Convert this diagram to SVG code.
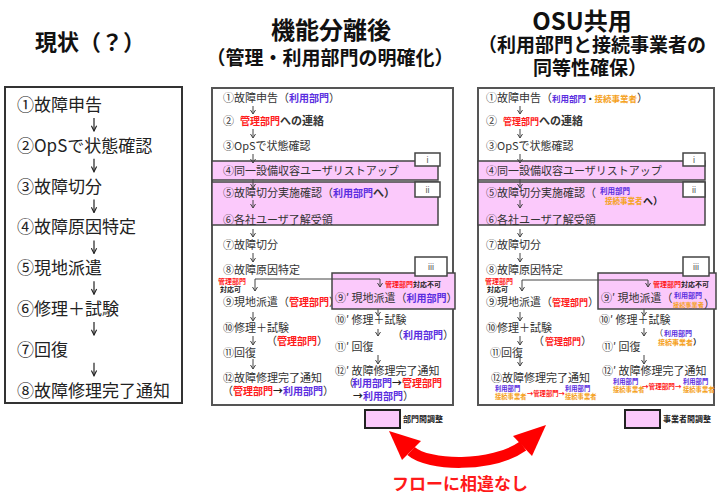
<svg xmlns="http://www.w3.org/2000/svg" width="719" height="494" viewBox="0 0 719 494">
<defs>
<style>
text { font-family: "Noto Sans CJK JP", "Noto Sans CJK SC", sans-serif; }
.h { font-weight: bold; fill: #111; }
.L { font-size: 17px; fill: #222; }
.s { font-size: 11px; fill: #333; }
.bd { font-weight: bold; }
.bl { fill: #5a2ee0; font-weight: bold; }
.rd { fill: #ff1a1a; font-weight: bold; }
.or { fill: #f5a21e; font-weight: bold; }
.k { fill: #222; font-weight: bold; }
.frame { fill: #fff; stroke: #555; stroke-width: 2; }
.pink { fill: #fbc9fb; stroke: #444; stroke-width: 1.5; }
.tag { fill: #fff; stroke: #444; stroke-width: 1.5; }
.tagt { font-family: "Liberation Sans", sans-serif; font-size: 9px; fill: #555; text-anchor: middle; }
.ar { fill: none; stroke: #444; stroke-width: 1; marker-end: url(#ah); }
.arL { fill: none; stroke: #222; stroke-width: 1.2; marker-end: url(#ahL); }
.legend { fill: #fbc9fb; stroke: #222; stroke-width: 2; }
</style>
<marker id="ah" viewBox="0 0 6 6" refX="5" refY="3" markerWidth="6" markerHeight="6" markerUnits="userSpaceOnUse" orient="auto">
<path d="M1,0.5 L5,3 L1,5.5" fill="none" stroke="#444" stroke-width="1"/>
</marker>
<marker id="ahL" viewBox="0 0 8 8" refX="7" refY="4" markerWidth="7" markerHeight="7" markerUnits="userSpaceOnUse" orient="auto">
<path d="M1,1 L7,4 L1,7" fill="none" stroke="#222" stroke-width="1.3"/>
</marker>
</defs>
<rect width="719" height="494" fill="#fff"/>

<!-- ===== current flow ===== -->
<g id="cur-title"><text class="h" x="35" y="50" font-size="22">現状（？）</text></g>
<g id="cur-frame"><rect x="5" y="87" width="177" height="316" fill="#fff" stroke="#333" stroke-width="2"/></g>
<g id="cur-1"><text class="L" x="17" y="111">①故障申告</text></g>
<g id="cur-2"><text class="L" x="17" y="151.8">②OpSで状態確認</text></g>
<g id="cur-3"><text class="L" x="17" y="192.6">③故障切分</text></g>
<g id="cur-4"><text class="L" x="17" y="233.4">④故障原因特定</text></g>
<g id="cur-5"><text class="L" x="17" y="274.2">⑤現地派遣</text></g>
<g id="cur-6"><text class="L" x="17" y="315">⑥修理＋試験</text></g>
<g id="cur-7"><text class="L" x="17" y="355.8">⑦回復</text></g>
<g id="cur-8"><text class="L" x="17" y="396.6">⑧故障修理完了通知</text></g>

<!-- ===== after functional separation ===== -->
<g id="sep-title">
<text class="h" x="331" y="39" font-size="24" text-anchor="middle">機能分離後</text>
<text class="h" x="330" y="65" font-size="19" text-anchor="middle">（管理・利用部門の明確化）</text>
</g>
<g id="sep-frame"><rect class="frame" x="212" y="88" width="241" height="317"/></g>
<g id="sep-1"><text class="s" x="223" y="102">①故障申告（<tspan class="bl" font-size="10">利用部門</tspan>）</text></g>
<g id="sep-2"><text class="s" x="223" y="125">②<tspan x="240" class="rd" font-size="10">管理部門</tspan><tspan class="bd">への連絡</tspan></text></g>
<g id="sep-3"><text class="s" x="223" y="150">③OpSで状態確認</text></g>
<g id="sep-4">
<rect class="pink" x="212" y="161" width="226" height="19"/>
<text class="s" x="223" y="175">④同一設備収容ユーザリストアップ</text>
<rect class="tag" x="415" y="153" width="25" height="13"/>
<text class="tagt" x="427.5" y="163">i</text>
</g>
<g id="sep-5-6">
<rect class="pink" x="212" y="182" width="226" height="43"/>
<text class="s" x="223" y="197">⑤故障切分実施確認（<tspan class="bl" font-size="10">利用部門</tspan><tspan class="bd">へ）</tspan></text>
<text class="s" x="223" y="224">⑥各社ユーザ了解受領</text>
<rect class="tag" x="415" y="182" width="25" height="15"/>
<text class="tagt" x="427.5" y="193">ii</text>
</g>
<g id="sep-7"><text class="s" x="223" y="249">⑦故障切分</text></g>
<g id="sep-8"><text class="s" x="223" y="274">⑧故障原因特定</text></g>
<g id="sep-9">
<text class="rd" x="218" y="283.7" font-size="7">管理部門</text>
<text class="k" x="220" y="291.7" font-size="7">対応可</text>
<text class="s" x="223" y="306">⑨現地派遣（<tspan class="rd" font-size="10">管理部門</tspan>）</text>
</g>
<g id="sep-9b">
<rect class="pink" x="332" y="273" width="123" height="36"/>
<rect class="tag" x="415" y="257" width="32" height="19"/>
<text class="tagt" x="431" y="269.5">iii</text>
<text x="385" y="287" font-size="7"><tspan class="rd">管理部門</tspan><tspan class="k">対応不可</tspan></text>
<text class="s" x="335" y="301.5">⑨′ 現地派遣（<tspan class="bl" font-size="10">利用部門</tspan>）</text>
</g>
<g id="sep-10">
<text class="s" x="223" y="332">⑩修理＋試験</text>
<text class="s" x="266" y="345">（<tspan x="277" class="rd" font-size="10">管理部門</tspan>）</text>
</g>
<g id="sep-10b">
<text class="s" x="335" y="324">⑩′ 修理＋試験</text>
<text class="s" x="392" y="339">（<tspan x="403" class="bl" font-size="10">利用部門</tspan>）</text>
</g>
<g id="sep-11"><text class="s" x="223" y="357">⑪回復</text></g>
<g id="sep-11b"><text class="s" x="335" y="351">⑪′ 回復</text></g>
<g id="sep-12">
<text class="s" x="223" y="382">⑫故障修理完了通知</text>
<text class="s" x="222" y="395">（<tspan x="233" class="rd" font-size="10">管理部門</tspan><tspan class="k" font-size="10">→</tspan><tspan class="bl" font-size="10">利用部門</tspan>）</text>
</g>
<g id="sep-12b">
<text class="s" x="335" y="374.5">⑫′ 故障修理完了通知</text>
<text class="s" x="343" y="387">（<tspan x="352" class="bl" font-size="10">利用部門</tspan><tspan class="k" font-size="10">→</tspan><tspan class="rd" font-size="10">管理部門</tspan></text>
<text class="s" x="353" y="399.5"><tspan class="k" font-size="10">→</tspan><tspan class="bl" font-size="10">利用部門</tspan>）</text>
</g>
<g id="sep-legend">
<rect class="legend" x="365" y="410" width="35" height="18"/>
<text class="k" x="403" y="422" font-size="8">部門間調整</text>
</g>

<!-- ===== shared OSU ===== -->
<g id="osu-title">
<text class="h" x="582" y="30" font-size="24" text-anchor="middle" font-family="Liberation Sans, Noto Sans CJK JP, sans-serif">OSU共用</text>
<text class="h" x="592" y="52" font-size="19" text-anchor="middle">（利用部門と接続事業者の</text>
<text class="h" x="590" y="75" font-size="19" text-anchor="middle">同等性確保）</text>
</g>
<g id="osu-frame"><rect class="frame" x="478" y="88" width="236" height="317"/></g>
<g id="osu-1"><text class="s" x="486" y="102">①故障申告（<tspan class="bl" font-size="8.5">利用部門</tspan><tspan class="k" font-size="8.5">・</tspan><tspan class="or" font-size="8.5">接続事業者</tspan>）</text></g>
<g id="osu-2"><text class="s" x="486" y="125">②<tspan x="503" class="rd" font-size="9">管理部門</tspan><tspan class="bd">への連絡</tspan></text></g>
<g id="osu-3"><text class="s" x="486" y="150">③OpSで状態確認</text></g>
<g id="osu-4">
<rect class="pink" x="478" y="161" width="227" height="19"/>
<text class="s" x="486" y="175">④同一設備収容ユーザリストアップ</text>
<rect class="tag" x="683" y="153" width="22" height="13"/>
<text class="tagt" x="694" y="163">i</text>
</g>
<g id="osu-5-6">
<rect class="pink" x="478" y="182" width="227" height="43"/>
<text class="s" x="486" y="197">⑤故障切分実施確認（</text>
<text class="bl" x="600" y="194" font-size="7.5">利用部門</text>
<text class="or" x="605" y="204" font-size="7.5">接続事業者</text>
<text class="k" x="643" y="205" font-size="10">へ）</text>
<text class="s" x="486" y="224">⑥各社ユーザ了解受領</text>
<rect class="tag" x="683" y="182" width="22" height="15"/>
<text class="tagt" x="694" y="193">ii</text>
</g>
<g id="osu-7"><text class="s" x="486" y="249">⑦故障切分</text></g>
<g id="osu-8"><text class="s" x="486" y="274">⑧故障原因特定</text></g>
<g id="osu-9">
<text class="rd" x="485" y="283.7" font-size="7">管理部門</text>
<text class="k" x="487" y="291.7" font-size="7">対応可</text>
<text class="s" x="486" y="306">⑨現地派遣（<tspan class="rd" font-size="9">管理部門</tspan>）</text>
</g>
<g id="osu-9b">
<rect class="pink" x="598" y="273" width="118" height="36"/>
<rect class="tag" x="683" y="257" width="26" height="19"/>
<text class="tagt" x="696" y="269.5">iii</text>
<text x="653" y="287" font-size="7"><tspan class="rd">管理部門</tspan><tspan class="k">対応不可</tspan></text>
<text class="s" x="601" y="301.5">⑨′ 現地派遣（</text>
<text class="bl" x="674" y="298" font-size="7">利用部門</text>
<text class="or" x="673" y="307" font-size="6.2">接続事業者</text>
<text class="s" x="704" y="308" font-size="9">）</text>
</g>
<g id="osu-10">
<text class="s" x="486" y="332">⑩修理＋試験</text>
<text class="s" x="533" y="345">（<tspan x="545" class="rd" font-size="9">管理部門</tspan>）</text>
</g>
<g id="osu-10b">
<text class="s" x="599" y="324">⑩′ 修理＋試験</text>
<text x="655" y="335.5" font-size="8" fill="#222">（<tspan x="664" class="bl" font-size="7">利用部門</tspan></text>
<text x="658" y="344.5" font-size="7"><tspan class="or">接続事業者</tspan><tspan class="k" font-size="8">）</tspan></text>
</g>
<g id="osu-11"><text class="s" x="490" y="357">⑪回復</text></g>
<g id="osu-11b"><text class="s" x="602" y="351">⑪′ 回復</text></g>
<g id="osu-12">
<text class="s" x="491" y="382">⑫故障修理完了通知</text>
<text class="bl" x="495" y="390.5" font-size="6.3">利用部門</text>
<text class="or" x="495" y="398.5" font-size="6.3">接続事業者</text>
<text class="rd" x="527" y="395.5" font-size="6.3">→管理部門→</text>
<text class="bl" x="565" y="390.5" font-size="6.3">利用部門</text>
<text class="or" x="565" y="398.5" font-size="6.3">接続事業者</text>
</g>
<g id="osu-12b">
<text class="s" x="602" y="374.5">⑫′ 故障修理完了通知</text>
<text class="bl" x="613" y="383.5" font-size="6.3">利用部門</text>
<text class="or" x="613" y="391.5" font-size="6.3">接続事業者</text>
<text class="rd" x="642" y="388.5" font-size="6.6">→管理部門→</text>
<text class="bl" x="683" y="383.5" font-size="6.3">利用部門</text>
<text class="or" x="683" y="391.5" font-size="6.3">接続事業者</text>
</g>
<g id="osu-legend">
<rect class="legend" x="625" y="410" width="35" height="18"/>
<text class="k" x="663" y="422" font-size="8">事業者間調整</text>
</g>

<!-- ===== conclusion ===== -->
<g id="no-diff"><text class="rd" x="392" y="489.5" font-size="17">フローに相違なし</text></g>

<!-- ===== connectors ===== -->
<g id="connectors">
<path class="arL" d="M94 118 V131"/>
<path class="arL" d="M94 158.8 V171.8"/>
<path class="arL" d="M94 199.6 V212.6"/>
<path class="arL" d="M94 240.4 V253.4"/>
<path class="arL" d="M94 281.2 V294.2"/>
<path class="arL" d="M94 322 V335"/>
<path class="arL" d="M94 362.8 V375.8"/>

<path class="ar" d="M253 106 V114"/>
<path class="ar" d="M253 129 V138"/>
<path class="ar" d="M253 154 V163"/>
<path class="ar" d="M253 179 V188"/>
<path class="ar" d="M253 200 V208"/>
<path class="ar" d="M253 229 V237"/>
<path class="ar" d="M253 253 V262"/>
<path class="ar" d="M255 279 V291"/>
<path class="ar" d="M255 279 H380 V287"/>
<path class="ar" d="M253 312 V321"/>
<path class="ar" d="M253 336 V345"/>
<path class="ar" d="M253 359 V369"/>
<path class="ar" d="M378 309 V316"/>
<path class="ar" d="M378 329 V336"/>
<path class="ar" d="M378 355 V364"/>

<path class="ar" d="M520 106 V114"/>
<path class="ar" d="M520 129 V138"/>
<path class="ar" d="M520 154 V163"/>
<path class="ar" d="M520 179 V188"/>
<path class="ar" d="M520 200 V208"/>
<path class="ar" d="M520 229 V237"/>
<path class="ar" d="M520 253 V262"/>
<path class="ar" d="M522 280 V291"/>
<path class="ar" d="M522 280 H648 V287"/>
<path class="ar" d="M520 312 V321"/>
<path class="ar" d="M520 336 V345"/>
<path class="ar" d="M520 356 V366"/>
<path class="ar" d="M644 309 V316"/>
<path class="ar" d="M644 328 V336"/>
<path class="ar" d="M644 355 V364"/>

<g id="compare-arrow" fill="#ff0000">
<path d="M411 451 C428 466 492 468 523 446" fill="none" stroke="#ff0000" stroke-width="11"/>
<polygon points="389,431 402,460 421,441"/>
<polygon points="546,425 513,436 532,456"/>
</g>
</g>
</svg>
